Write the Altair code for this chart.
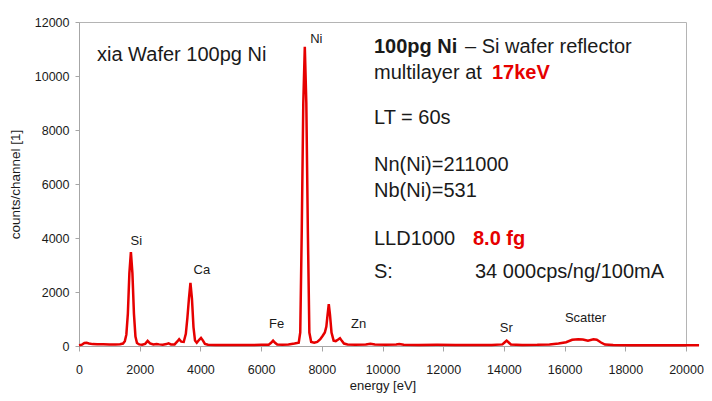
import altair as alt
import pandas as pd

# ---- spectrum ----
energy = [0, 100, 180, 250, 330, 450, 600, 800, 1000, 1200, 1350, 1450, 1510, 1560, 1610, 1660,
          1710, 1760, 1810, 1860, 1910, 1980, 2080, 2180, 2262, 2340, 2450, 2560, 2640, 2760,
          2880, 2950, 3030, 3150, 3240, 3300, 3370, 3450, 3520, 3572, 3622, 3672, 3722, 3772,
          3822, 3880, 3960, 4020, 4080, 4150, 4250, 4500, 4800, 5200, 5600, 6000, 6250, 6330,
          6395, 6460, 6530, 6700, 6900, 7100, 7240, 7290, 7340, 7390, 7440, 7490, 7540, 7590,
          7650, 7750, 7850, 7950, 8030, 8100, 8150, 8190, 8230, 8270, 8320, 8390, 8460, 8540,
          8600, 8660, 8730, 8850, 9100, 9450, 9600, 9750, 10100, 10450, 10550, 10700, 11200,
          11800, 12400, 13000, 13600, 13950, 14030, 14090, 14150, 14230, 14600, 15100, 15500,
          15800, 16050, 16250, 16450, 16600, 16770, 16950, 17060, 17200, 17330, 17600, 18200,
          18800, 19400, 20000, 20430]
counts = [30, 50, 110, 122, 95, 70, 65, 62, 60, 58, 65, 90, 180, 420, 1200, 2700,
          3480, 2700, 1200, 350, 110, 60, 45, 80, 190, 100, 55, 75, 60, 50,
          70, 100, 60, 60, 170, 255, 160, 150, 450, 1050, 1750, 2340, 1750, 700,
          200, 120, 230, 300, 210, 80, 45, 40, 35, 40, 35, 45, 50, 120,
          200, 120, 55, 50, 60, 90, 120, 500, 4300, 9000, 11080, 9000, 4300, 500,
          150, 120, 150, 250, 380, 500, 720, 1150, 1550, 1150, 500, 200, 180, 240,
          290, 190, 90, 60, 50, 55, 80, 55, 45, 60, 75, 45, 40,
          45, 40, 40, 40, 60, 140, 200, 140, 55, 40, 45, 60,
          90, 140, 230, 250, 240, 195, 250, 230, 130, 55, 35, 30,
          30, 30, 30, 30]

x_ticks = [0, 2000, 4000, 6000, 8000, 10000, 12000, 14000, 16000, 18000, 20000]
y_ticks = [0, 2000, 4000, 6000, 8000, 10000, 12000]

# ---- peak labels ----
peak_names = ["Si", "Ca", "Fe", "Ni", "Zn", "Sr", "Scatter"]
peak_label_e = [1891, 4049, 6514, 7820, 9213, 14076, 16689]
peak_label_c = [3755, 2658, 653, 11235, 653, 517, 897]

FONT = "Liberation Sans"
RED = "#e60000"
INK = "#1a1a1a"

spec = pd.DataFrame({"energy": energy, "counts": counts})
peaks = pd.DataFrame({"name": peak_names, "energy": peak_label_e, "counts": peak_label_c})

xscale = alt.Scale(domain=[0, 20000], nice=False)
yscale = alt.Scale(domain=[0, 12000], nice=False)

line = alt.Chart(spec).mark_line(color=RED, strokeWidth=2.5, clip=False).encode(
    x=alt.X("energy:Q", scale=xscale,
            axis=alt.Axis(title="energy [eV]", values=x_ticks, grid=False, format="d",
                          labelFontSize=12.5, labelFont=FONT, labelColor=INK,
                          labelPadding=12, tickSize=5, tickColor="#a6a6a6",
                          labelFlush=False, labelOverlap=False,
                          domainColor="#a6a6a6", titleFont=FONT, titleFontSize=13,
                          titleFontWeight="normal", titleColor=INK,
                          titleY=43, titleBaseline="alphabetic")),
    y=alt.Y("counts:Q", scale=yscale,
            axis=alt.Axis(title="counts/channel [1]", values=y_ticks, grid=False, format="d",
                          labelFontSize=12.5, labelFont=FONT, labelColor=INK,
                          labelPadding=6, tickSize=4, tickColor="#a6a6a6",
                          labelFlush=False, labelOverlap=False,
                          domainColor="#a6a6a6", titleFont=FONT, titleFontSize=13.5,
                          titleFontWeight="normal", titleColor=INK,
                          titleX=-64, titleY=162, titleAngle=-90,
                          titleBaseline="middle", titleAlign="center")),
)

peak_text = alt.Chart(peaks).mark_text(font=FONT, fontSize=13, color=INK,
                                       align="center", baseline="alphabetic").encode(
    x=alt.X("energy:Q", scale=xscale),
    y=alt.Y("counts:Q", scale=yscale),
    text="name:N",
)


def note(text, x, y, size=20, bold=False, color=INK):
    return alt.Chart(pd.DataFrame({"t": [text]})).mark_text(
        font=FONT, fontSize=size, fontWeight="bold" if bold else "normal",
        color=color, align="left", baseline="alphabetic").encode(
        x=alt.value(x), y=alt.value(y), text="t:N")


notes = [
    note("xia Wafer 100pg Ni", 18, 39),
    note("100pg Ni", 295, 31, bold=True),
    note("– Si wafer reflector", 386, 31),
    note("multilayer at", 295, 57),
    note("17keV", 413, 57, bold=True, color=RED),
    note("LT = 60s", 295, 102),
    note("Nn(Ni)=211000", 295, 149),
    note("Nb(Ni)=531", 295, 175),
    note("LLD1000", 295, 223),
    note("8.0 fg", 394, 223, bold=True, color=RED),
    note("S:", 295, 256),
    note("34 000cps/ng/100mA", 396, 256),
]

chart = alt.layer(line, peak_text, *notes).properties(
    width=607, height=324,
    padding={"left": 71, "top": 14, "right": 18, "bottom": 47},
    autosize=alt.AutoSizeParams(type="none"),
    background="white",
).configure_view(stroke="#b4b4b4", strokeWidth=1)

chart.save("out.html", embed_options={"renderer": "svg", "actions": False})
